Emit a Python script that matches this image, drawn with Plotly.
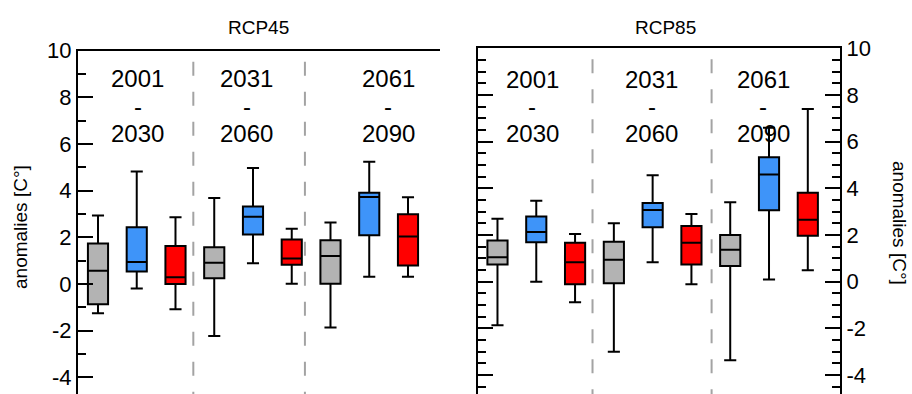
import plotly.graph_objects as go

# ---------------- data ----------------
panels = ["RCP45", "RCP85"]
periods_start = ["2001", "2031", "2061"]
periods_end = ["2030", "2060", "2090"]
positions = [1, 2, 3, 4, 5, 6, 7, 8, 9]
box_colors_names = ["gray", "blue", "red"]

rcp45_low = [-1.26, -0.20, -1.09, -2.23, 0.89, 0.01, -1.87, 0.31, 0.31]
rcp45_q1 = [-0.87, 0.53, 0.00, 0.24, 2.12, 0.82, 0.01, 2.09, 0.79]
rcp45_med = [0.56, 0.94, 0.29, 0.91, 2.88, 1.09, 1.20, 3.73, 2.03]
rcp45_q3 = [1.73, 2.43, 1.63, 1.57, 3.32, 1.90, 1.87, 3.91, 2.99]
rcp45_high = [2.93, 4.82, 2.86, 3.68, 4.97, 2.37, 2.63, 5.24, 3.72]

rcp85_low = [-1.87, 0.00, -0.88, -3.00, 0.83, -0.11, -3.36, 0.09, 0.49]
rcp85_q1 = [0.74, 1.69, -0.11, -0.07, 2.33, 0.74, 0.67, 3.06, 1.97]
rcp85_med = [1.05, 2.13, 0.83, 0.94, 3.07, 1.67, 1.37, 4.59, 2.66]
rcp85_q3 = [1.77, 2.79, 1.67, 1.71, 3.37, 2.39, 2.00, 5.33, 3.81]
rcp85_high = [2.70, 3.47, 2.04, 2.51, 4.56, 2.90, 3.40, 6.60, 7.40]

major_ticks = [-4, -2, 0, 2, 4, 6, 8, 10]
major_tick_labels = ["-4", "-2", "0", "2", "4", "6", "8", "10"]

# ---------------- styles / layout constants ----------------
COLORS = {"gray": "#b3b3b3", "blue": "#3e94f9", "red": "#ff0000"}
FONT = "Liberation Sans, Arial, sans-serif"
W, H = 912, 394

fig = go.Figure()

panel_data = [
    (rcp45_low, rcp45_q1, rcp45_med, rcp45_q3, rcp45_high, "x", "y"),
    (rcp85_low, rcp85_q1, rcp85_med, rcp85_q3, rcp85_high, "x2", "y2"),
]
for low, q1, med, q3, high, xa, ya in panel_data:
    for i, pos in enumerate(positions):
        cname = box_colors_names[i % 3]
        fig.add_trace(go.Box(
            x=[pos], q1=[q1[i]], median=[med[i]], q3=[q3[i]],
            lowerfence=[low[i]], upperfence=[high[i]],
            fillcolor=COLORS[cname], line=dict(color="black", width=2),
            width=0.52, whiskerwidth=0.6, boxpoints=False,
            xaxis=xa, yaxis=ya, showlegend=False, hoverinfo="skip",
        ))

left_dom = [0, (H - 50.7) / H]
right_dom = [0, (H - 48.3) / H]
left_range = [-4.72, 10]
right_range = [-4.81, 10]

def yax(rng, dom, side, labels, minor_dtick, **kw):
    d = dict(
        range=rng, domain=dom, side=side, showgrid=False, zeroline=False,
        showline=True, linecolor="black", linewidth=2, automargin=False,
        ticks="inside", ticklen=15, tickwidth=2, tickcolor="black",
        tickmode="array", tickvals=major_ticks, ticktext=major_tick_labels,
        showticklabels=labels,
        tickfont=dict(family=FONT, size=22, color="black"),
        minor=dict(tickmode="linear", tick0=0, dtick=minor_dtick, ticks="inside",
                   ticklen=8, tickwidth=2, tickcolor="black", showgrid=False),
    )
    d.update(kw)
    return d

def xax(dom, rng, anchor):
    return dict(domain=dom, range=rng, anchor=anchor, side="top", automargin=False,
                showline=True, linecolor="black", linewidth=2,
                showticklabels=False, ticks="", showgrid=False, zeroline=False)

fig.update_layout(
    template="none",
    width=W, height=H, autosize=False,
    margin=dict(l=0, r=0, t=0, b=0, pad=0),
    paper_bgcolor="white", plot_bgcolor="rgba(0,0,0,0)",
    xaxis=xax([78 / W, 440 / W], [0.484, 9.826], "y"),
    xaxis2=xax([477.7 / W, 840 / W], [0.49, 9.83], "y2"),
    yaxis=yax(left_range, left_dom, "left", True, 1, anchor="x"),
    yaxis3=yax(left_range, left_dom, "right", False, 0.5, anchor="x", overlaying="y"),
    yaxis2=yax(right_range, right_dom, "right", True, 0.5, anchor="x2", mirror="ticks"),
    showlegend=False,
)

# period separators (dashed), drawn from the top down
separators = {"x": [3.46, 6.34], "x2": [3.45, 6.52]}
for xa, xs in separators.items():
    ya = "y" if xa == "x" else "y2"
    for xv in xs:
        fig.add_shape(type="line", xref=xa, yref=f"{ya} domain", x0=xv, x1=xv,
                      y0=0.968, y1=0, layer="below",
                      line=dict(color="#a3a3a3", width=2, dash="14px,16px"))

# period labels
label_x = {"x": [2.03, 4.84, 8.49], "x2": [1.89, 4.98, 7.85]}
label_y = {"x": [8.79, 7.59, 6.43], "x2": [8.68, 7.49, 6.33]}
for xa in ["x", "x2"]:
    ya = "y" if xa == "x" else "y2"
    for k in range(3):
        for txt, yv in zip([periods_start[k], "-", periods_end[k]], label_y[xa]):
            fig.add_annotation(x=label_x[xa][k], y=yv, xref=xa, yref=ya, text=txt,
                               showarrow=False, xanchor="center", yanchor="middle",
                               font=dict(family=FONT, size=24, color="black"))

# panel titles
for name, xc in zip(panels, [258, 665]):
    fig.add_annotation(x=xc / W, y=1 - 28 / H, xref="paper", yref="paper", text=name,
                       showarrow=False, xanchor="center", yanchor="middle",
                       font=dict(family=FONT, size=19, color="black"))

# y titles
fig.add_annotation(x=20 / W, y=1 - 227 / H, xref="paper", yref="paper",
                   text="anomalies [C°]", textangle=-90, showarrow=False,
                   xanchor="center", yanchor="middle",
                   font=dict(family=FONT, size=19, color="black"))
fig.add_annotation(x=900 / W, y=1 - 223 / H, xref="paper", yref="paper",
                   text="anomalies [C°]", textangle=90, showarrow=False,
                   xanchor="center", yanchor="middle",
                   font=dict(family=FONT, size=19, color="black"))

fig.write_html("out.html")
